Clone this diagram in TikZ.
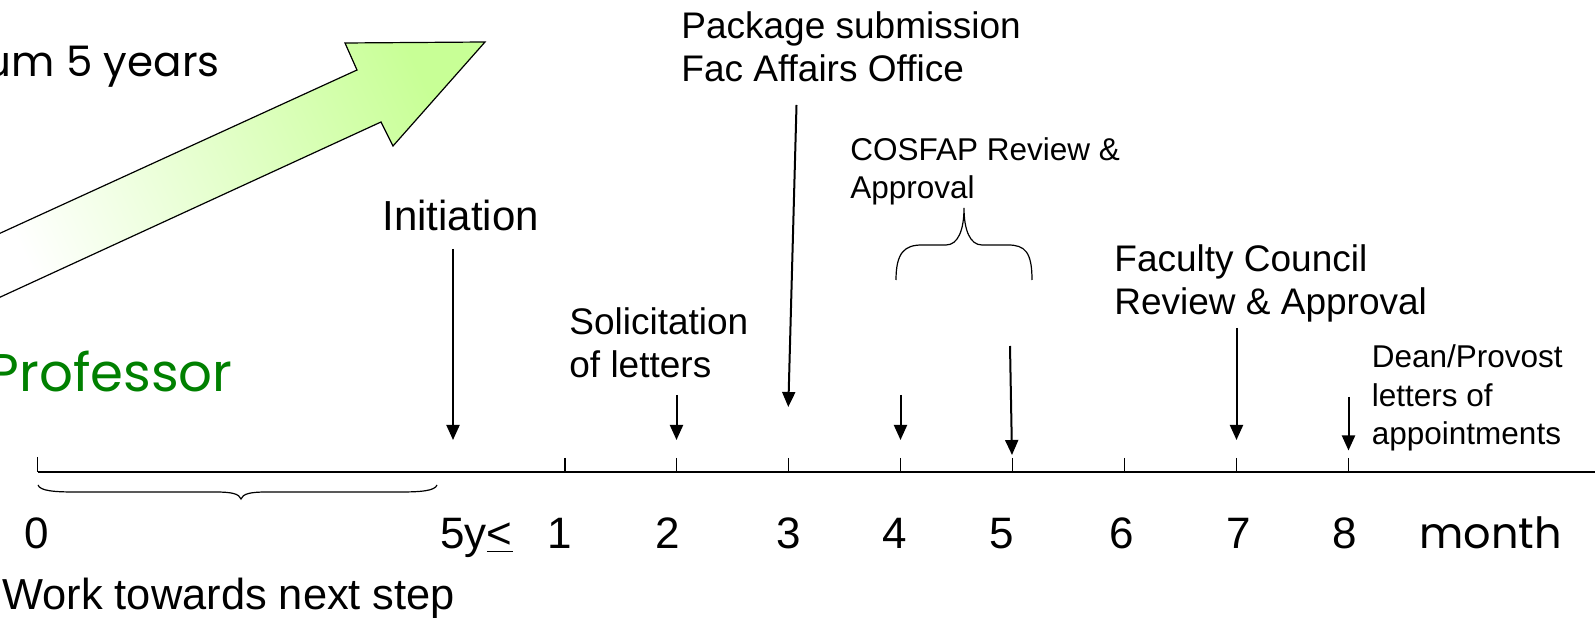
\documentclass[tikz,border=0pt]{standalone}
\usepackage{fontspec}
\setmainfont{Liberation Sans}
\newfontfamily\comicfont{Poppins}
\usetikzlibrary{arrows.meta}
\definecolor{arrowgreen}{RGB}{200,255,150}
\definecolor{midgreen}{RGB}{238,255,226}
\definecolor{profgreen}{RGB}{0,128,0}
\begin{document}
\begin{tikzpicture}[x=0.5pt,y=-0.5pt,
  lbl/.style={inner sep=0pt, anchor=base west, align=left, font=\fontsize{18.5}{21.5}\selectfont},
  smalllbl/.style={inner sep=0pt, anchor=base west, align=left, font=\fontsize{15.75}{19.25}\selectfont},
  num/.style={inner sep=0pt, anchor=base, font=\fontsize{22}{26}\selectfont},
  comic/.style={inner sep=0pt, font=\comicfont\fontsize{22}{26}\selectfont},
  pointer/.style={line width=1pt, -{Triangle[width=6.5pt,length=7.5pt]}},
  tickmark/.style={line width=0.75pt},
  axisline/.style={line width=1pt},
  bracket/.style={line width=0.6pt}
]
\useasboundingbox (0,0) rectangle (1595,619);
\clip (0,0) rectangle (1595,619);

% big green arrow
\shadedraw[draw=black, line width=0.6pt, bottom color=white, middle color=midgreen,
  top color=arrowgreen, shading angle=-65.4]
  (-30,247) -- (357,70) -- (345,43) -- (485,42) -- (393,146) -- (381,122) -- (-30,311) -- cycle;

% comic texts
\node[comic, anchor=base east, font=\comicfont\fontsize{21}{25}\selectfont] (years) at (220,77) {um 5 years};
\node[comic, anchor=base east, text=profgreen, font=\comicfont\fontsize{26.5}{30}\selectfont] (prof) at (233,392) {Professor};

% axis
\coordinate (axL) at (37.6,472);
\coordinate (axR) at (1595,472);
\draw[axisline] (axL) -- (axR);
\draw[tickmark] (37.6,457) -- (37.6,472);
\foreach \k/\xx in {1/565,2/676.5,3/788.5,4/900.5,5/1012.5,6/1124.5,7/1236.5,8/1348.5}{
  \draw[tickmark] (\xx,458) -- (\xx,472);
}

% brace under axis
\draw[bracket] (38,485) .. controls (40,491) and (55,492) .. (75,492) -- (215,492)
  .. controls (233,492) and (239,494) .. (241,499)
  .. controls (243,494) and (249,492) .. (267,492) -- (400,492)
  .. controls (420,492) and (435,491) .. (437,485);

% labels on axis
\node[num] (n0) at (36.6,549) {0};
\node[num, anchor=base west] (n5y) at (440,549) {5y\underline{<}};
\node[num] (n1) at (559.5,549) {1};
\node[num] (n2) at (668,549) {2};
\node[num] (n3) at (789,549) {3};
\node[num] (n4) at (895,549) {4};
\node[num] (n5) at (1002,549) {5};
\node[num] (n6) at (1122,549) {6};
\node[num] (n7) at (1239,549) {7};
\node[num] (n8) at (1345,549) {8};
\node[comic, anchor=base west, font=\comicfont\fontsize{21.5}{26}\selectfont] (month) at (1419,549) {month};
\node[num, anchor=base west, font=\fontsize{21.7}{26}\selectfont] (work) at (2,610) {Work towards next step};

% event labels (anchor = baseline of last line)
\node[lbl] (pkg) at (681,82) {Package submission\\Fac Affairs Office};
\node[lbl, font=\fontsize{21}{25}\selectfont] (init) at (382,231) {Initiation};
\node[lbl] (sol) at (569,378) {Solicitation\\of letters};
\node[smalllbl] (cos) at (850,199) {COSFAP Review \&\\Approval};
\node[lbl] (fac) at (1114,315) {Faculty Council\\Review \& Approval};
\node[smalllbl] (dean) at (1371.5,445) {Dean/Provost\\letters of\\appointments};

% COSFAP brace
\draw[bracket] (896,280) .. controls (896,252) and (905,245) .. (922,245) -- (946,245)
  .. controls (958,245) and (964,230) .. (964,208)
  .. controls (964,230) and (970,245) .. (982,245) -- (1008,245)
  .. controls (1025,245) and (1032,252) .. (1032,280);

% pointers
\coordinate (initA) at (453,249);   \coordinate (initB) at (453,440);
\coordinate (solA) at (676.5,395);  \coordinate (solB) at (676.5,440);
\coordinate (pkgA) at (796.5,105);  \coordinate (pkgB) at (788.3,407);
\coordinate (cosA) at (900.5,395);  \coordinate (cosB) at (900.5,440);
\coordinate (cos2A) at (1010,346);  \coordinate (cos2B) at (1012,455);
\coordinate (facA) at (1236.5,328); \coordinate (facB) at (1236.5,440);
\coordinate (deanA) at (1348.5,397);\coordinate (deanB) at (1348.5,450.5);
\draw[pointer] (initA) -- (initB);
\draw[pointer] (solA) -- (solB);
\draw[pointer] (pkgA) -- (pkgB);
\draw[pointer] (cosA) -- (cosB);
\draw[pointer] (cos2A) -- (cos2B);
\draw[pointer] (facA) -- (facB);
\draw[pointer] (deanA) -- (deanB);
\end{tikzpicture}
\end{document}
